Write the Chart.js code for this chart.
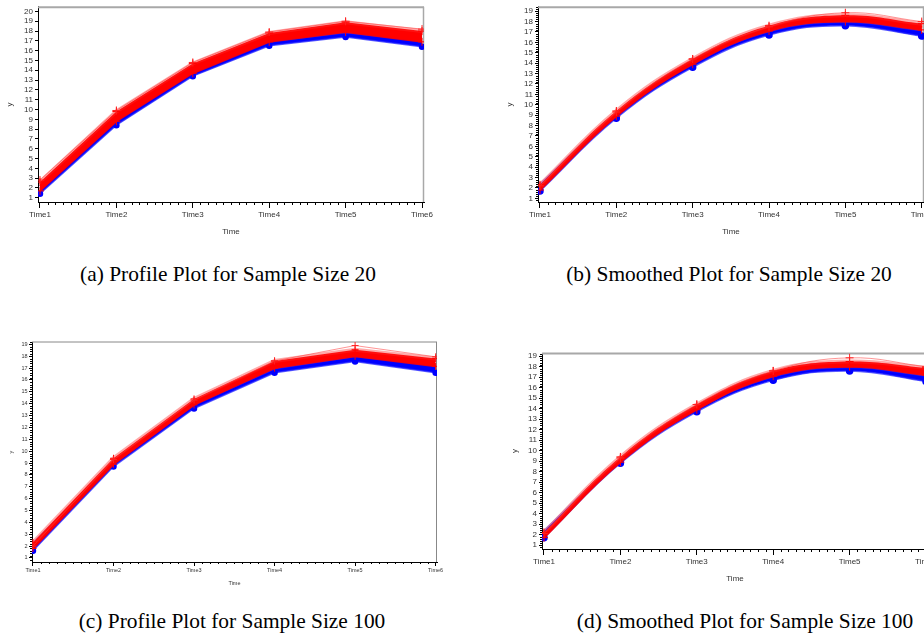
<!DOCTYPE html>
<html><head><meta charset="utf-8">
<script src="https://cdn.jsdelivr.net/npm/chart.js@4.4.1/dist/chart.umd.min.js"></script>
<style>
html,body{margin:0;padding:0;background:#fff;overflow:hidden;width:924px;height:634px;position:relative;}
canvas{position:absolute;display:block;}
.cap{position:absolute;font-family:"Liberation Serif","Times New Roman",serif;font-size:21.4px;line-height:24px;color:#000;white-space:nowrap;transform:translateX(-50%);}
</style></head><body>
<canvas id="ca" width="440" height="245" style="left:0;top:0"></canvas>
<canvas id="cb" width="460" height="245" style="left:490px;top:0"></canvas>
<canvas id="cc" width="450" height="255" style="left:0;top:335px"></canvas>
<canvas id="cd" width="460" height="245" style="left:490px;top:345px"></canvas>
<div class="cap" style="left:228px;top:262px">(a) Profile Plot for Sample Size 20</div>
<div class="cap" style="left:729px;top:262px">(b) Smoothed Plot for Sample Size 20</div>
<div class="cap" style="left:232px;top:609px">(c) Profile Plot for Sample Size 100</div>
<div class="cap" style="left:745px;top:609px">(d) Smoothed Plot for Sample Size 100</div>
<script>
// ---- data ----
const timeLabels = ['Time1','Time2','Time3','Time4','Time5','Time6'];
const yTicks20 = [1,2,3,4,5,6,7,8,9,10,11,12,13,14,15,16,17,18,19,20];
const yTicks19 = [1,2,3,4,5,6,7,8,9,10,11,12,13,14,15,16,17,18,19];

// (a) profile, n=20
const aRedHi  = [2.6, 9.8, 14.7, 17.8, 18.9, 18.0];
const aRedLo  = [1.7, 8.8, 13.7, 16.9, 17.9, 16.9];
const aBlueHi = [2.1, 9.0, 13.9, 17.0, 17.9, 17.1];
const aBlueLo = [1.4, 8.4, 13.4, 16.5, 17.4, 16.4];
const aRedOut = [2.8, 9.9, 14.8, 17.9, 19.0, 18.2];
// (b) smoothed, n=20
const bRedHi  = [2.3, 9.4, 14.4, 17.6, 18.6, 17.8];
const bRedLo  = [1.8, 8.9, 13.9, 17.1, 18.0, 17.2];
const bBlueHi = [2.3, 9.1, 14.0, 17.1, 18.0, 17.2];
const bBlueLo = [1.7, 8.7, 13.6, 16.7, 17.6, 16.6];
const bRedOut = [2.2, 9.3, 14.4, 17.5, 18.85, 18.0];
// (c) profile, n=100
const cRedHi  = [2.3, 9.4, 14.4, 17.6, 18.55, 17.8];
const cRedLo  = [1.8, 8.9, 13.9, 17.0, 18.0, 17.15];
const cBlueHi = [2.2, 9.0, 14.0, 17.0, 18.05, 17.3];
const cBlueLo = [1.6, 8.7, 13.6, 16.6, 17.55, 16.6];
const cRedOut = [2.0, 9.3, 14.3, 17.6, 18.9, 17.95];
// (d) smoothed, n=100
const dRedHi  = [2.2, 9.4, 14.4, 17.6, 18.5, 17.9];
const dRedLo  = [1.7, 8.9, 13.9, 17.1, 18.0, 17.2];
const dBlueHi = [2.3, 9.1, 14.0, 17.1, 18.0, 17.2];
const dBlueLo = [1.7, 8.8, 13.7, 16.7, 17.6, 16.6];
const dRedOut = [2.1, 9.3, 14.4, 17.6, 18.85, 18.0];

// ---- decoration plugin: frame + minor ticks ----
const decor = {
  id: 'decor',
  beforeDatasetsDraw(chart, args, o) {
    const {ctx, chartArea: ca} = chart;
    ctx.save();
    ctx.strokeStyle = o.frameColor; ctx.lineWidth = o.frameWidth;
    ctx.beginPath();
    ctx.moveTo(ca.left, ca.top + o.frameWidth/2 - 0.5);
    ctx.lineTo(ca.right, ca.top + o.frameWidth/2 - 0.5);
    ctx.stroke();
    ctx.lineWidth = o.rightWidth;
    ctx.beginPath();
    ctx.moveTo(ca.right - 0.5, ca.top); ctx.lineTo(ca.right - 0.5, ca.bottom);
    ctx.stroke();
    ctx.restore();
  },
  afterDraw(chart, args, o) {
    const {ctx, chartArea: ca, scales: {x, y}} = chart;
    ctx.save();
    ctx.strokeStyle = '#000'; ctx.lineWidth = 1;
    ctx.beginPath();
    for (let k = 0; k <= 50; k++) {
      if (k % 10 === 0) continue;
      const px = Math.round(x.getPixelForValue(k / 10)) + 0.5;
      ctx.moveTo(px, ca.bottom); ctx.lineTo(px, ca.bottom + o.xMinorLen);
    }
    if (o.yMinor) {
      for (let v = Math.ceil(y.min / o.yMinor) * o.yMinor; v <= y.max; v += o.yMinor) {
        const r = Math.round(v * 1000) / 1000;
        if (Math.abs(r - Math.round(r)) < 1e-6) continue;
        const py = Math.round(y.getPixelForValue(r)) + 0.5;
        ctx.moveTo(ca.left, py); ctx.lineTo(ca.left - o.yMinorLen, py);
      }
    }
    ctx.stroke();
    ctx.restore();
  }
};

const pts = arr => arr.map((v, i) => ({x: i, y: v}));

function makeChart(id, c) {
  const tension = c.smooth ? 0.4 : 0;
  const datasets = [
    {data: pts(c.blueLo), borderColor: 'rgba(40,40,255,0.75)', borderWidth: 1.5, fill: '+1', backgroundColor: '#0000ff',
     pointStyle: 'circle', pointRadius: c.blueDot, pointBackgroundColor: '#0000ff', pointBorderColor: '#0000ff', tension, order: 5},
    {data: pts(c.blueHi), borderColor: 'rgba(60,60,255,0.45)', borderWidth: 3, fill: false, pointRadius: 0, tension, order: 4},
    {data: pts(c.redLo), borderColor: 'rgba(255,0,0,0.9)', borderWidth: 2, fill: '+1', backgroundColor: '#ff0000',
     pointStyle: 'cross', pointRadius: c.cross, pointBorderColor: '#ff0000', pointBorderWidth: 1, tension, order: 3},
    {data: pts(c.redHi), borderColor: 'rgba(255,40,40,0.4)', borderWidth: 4, fill: false,
     pointStyle: 'cross', pointRadius: c.cross, pointBorderColor: '#ff0000', pointBorderWidth: 1, tension, order: 2},
    {data: pts(c.redOut), borderColor: 'rgba(255,60,60,0.55)', borderWidth: 1, fill: false,
     pointStyle: 'cross', pointRadius: c.cross, pointBorderColor: '#ff2020', pointBorderWidth: 1, tension, order: 1}
  ];
  const tickFont = {family: "'Liberation Sans', Arial, sans-serif", size: c.fs};
  new Chart(document.getElementById(id), {
    type: 'line',
    data: {datasets},
    options: {
      responsive: false, animation: false, events: [],
      layout: {padding: c.pad},
      plugins: {
        legend: {display: false}, tooltip: {enabled: false},
        decor: {frameColor: c.frameColor, frameWidth: c.frameWidth, rightWidth: c.rightWidth,
                xMinorLen: c.xMinorLen, yMinor: c.yMinor, yMinorLen: c.yMinorLen}
      },
      scales: {
        x: {
          type: 'linear', min: c.xMin, max: c.xMax,
          afterFit: s => { s.height = c.xh; },
          afterBuildTicks: s => { s.ticks = timeLabels.map((t, i) => ({value: i})); },
          ticks: {callback: v => timeLabels[v], font: tickFont, color: '#333', padding: c.xtp, maxRotation: 0, autoSkip: false},
          grid: {drawOnChartArea: false, tickLength: c.xTickLen, tickColor: '#000', tickWidth: 1},
          border: {color: '#000', width: 1},
          title: {display: true, text: 'Time', font: tickFont, color: '#333', padding: {top: 0, bottom: c.xTitlePad}}
        },
        y: {
          type: 'linear', min: c.yMin, max: c.yMax,
          afterFit: s => { s.width = c.yw; },
          afterBuildTicks: s => { s.ticks = c.yTicks.map(v => ({value: v})); },
          ticks: {callback: v => String(v), font: tickFont, color: '#333', padding: c.ytp, autoSkip: false},
          grid: {drawOnChartArea: false, tickLength: c.yTickLen, tickColor: '#000', tickWidth: 1},
          border: {color: '#000', width: 1},
          title: {display: true, text: 'y', font: tickFont, color: '#333', padding: {top: c.yTitlePad, bottom: 0}}
        }
      }
    },
    plugins: [decor]
  });
}

makeChart('ca', {redHi: aRedHi, redLo: aRedLo, blueHi: aBlueHi, blueLo: aBlueLo, redOut: aRedOut, smooth: false,
  pad: {left: 0, right: 16, top: 5, bottom: 0}, yw: 38, xh: 43, xMin: -0.026, xMax: 5.026, yMin: 0.565, yMax: 20.475,
  yTicks: yTicks20, fs: 8, xtp: 2, ytp: 2, xTickLen: 6, yTickLen: 3, xTitlePad: 8, yTitlePad: 5,
  frameColor: '#a8a8a8', frameWidth: 2, rightWidth: 1.5, xMinorLen: 3, yMinor: null, yMinorLen: 0, blueDot: 2.5, cross: 4});

makeChart('cb', {redHi: bRedHi, redLo: bRedLo, blueHi: bBlueHi, blueLo: bBlueLo, redOut: bRedOut, smooth: true,
  pad: {left: 0, right: 26, top: 5, bottom: 0}, yw: 48, xh: 43, xMin: -0.026, xMax: 5.03, yMin: 0.647, yMax: 19.42,
  yTicks: yTicks19, fs: 8, xtp: 2, ytp: 2, xTickLen: 6, yTickLen: 3, xTitlePad: 8.5, yTitlePad: 15,
  frameColor: '#a8a8a8', frameWidth: 2, rightWidth: 1.5, xMinorLen: 3, yMinor: 0.2, yMinorLen: 2, blueDot: 3, cross: 4});

makeChart('cc', {redHi: cRedHi, redLo: cRedLo, blueHi: cBlueHi, blueLo: cBlueLo, redOut: cRedOut, smooth: false,
  pad: {left: 0, right: 13, top: 7, bottom: 0}, yw: 32, xh: 28, xMin: -0.012, xMax: 5.017, yMin: 0.66, yMax: 19.2,
  yTicks: yTicks19, fs: 5.5, xtp: 1, ytp: 1.5, xTickLen: 4, yTickLen: 3, xTitlePad: 3.7, yTitlePad: 7.7,
  frameColor: '#888888', frameWidth: 1, rightWidth: 1, xMinorLen: 2, yMinor: 0.2, yMinorLen: 2, blueDot: 2.5, cross: 3.5});

makeChart('cd', {redHi: dRedHi, redLo: dRedLo, blueHi: dBlueHi, blueLo: dBlueLo, redOut: dRedOut, smooth: true,
  pad: {left: 0, right: 22, top: 8, bottom: 0}, yw: 52, xh: 41, xMin: -0.026, xMax: 5.026, yMin: 0.62, yMax: 19.31,
  yTicks: yTicks19, fs: 8, xtp: 2, ytp: 2, xTickLen: 6, yTickLen: 3, xTitlePad: 6, yTitlePad: 20,
  frameColor: '#a8a8a8', frameWidth: 2, rightWidth: 1.5, xMinorLen: 3, yMinor: 0.2, yMinorLen: 2, blueDot: 3, cross: 4});
</script>
</body></html>
